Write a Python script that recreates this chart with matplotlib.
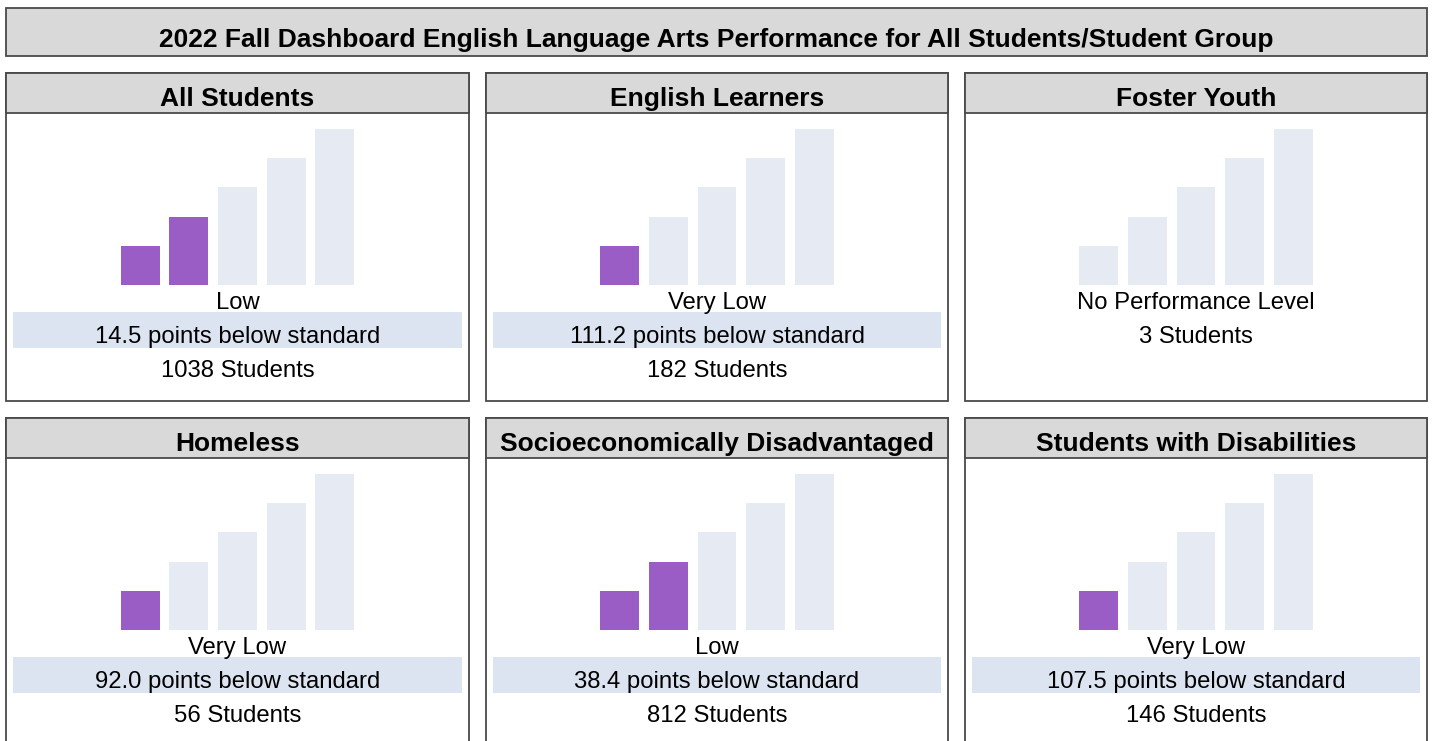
"""
Fall Dashboard ELA performance tiles, one small bar gauge per student group.
Writes: out.png
"""
import matplotlib
matplotlib.use("Agg")
import matplotlib.pyplot as plt
from matplotlib.patches import Rectangle

plt.rcParams["font.family"] = ["Liberation Sans", "DejaVu Sans"]

# ---------------------------------------------------------------------------
# Data
# ---------------------------------------------------------------------------
TITLE = "2022 Fall Dashboard English Language Arts Performance for All Students/Student Group"
groups = ["All Students", "English Learners", "Foster Youth",
          "Homeless", "Socioeconomically Disadvantaged", "Students with Disabilities"]
filled_levels = [2, 1, 0, 1, 2, 1]          # number of bars lit (0 = no level)
status = ["Low", "Very Low", "No Performance Level", "Very Low", "Low", "Very Low"]
points_below = [14.5, 111.2, None, 92.0, 38.4, 107.5]
students = [1038, 182, 3, 56, 812, 146]
gauge_heights = [4, 7, 10, 13, 16]           # the five step bars

PURPLE = "#9a5cc5"
EMPTY = "#e6eaf2"
BAND = "#dbe4f0"
HEADER = "#d9d9d9"
BORDER = "#4a4a4a"

W, H = 1433, 741
fig = plt.figure(figsize=(W / 100, H / 100), dpi=100)


def box(x0, y0, x1, y1, **kw):
    """Rectangle in pixel coords (origin top-left)."""
    fig.add_artist(Rectangle((x0 / W, 1 - y1 / H), (x1 - x0) / W, (y1 - y0) / H,
                             transform=fig.transFigure, **kw))


def text(x, y, s, **kw):
    fig.text(x / W, 1 - y / H, s, ha="center", va="baseline", zorder=5, **kw)


# title bar
box(6, 8, 1427, 56, facecolor=HEADER, edgecolor=BORDER, linewidth=1.3)
text(716.5, 47, TITLE, fontsize=19, fontweight="bold")

col_x = [(6, 469), (486, 948), (965, 1427)]
row_y = [73, 418]

for i, name in enumerate(groups):
    x0, x1 = col_x[i % 3]
    top = row_y[i // 3]
    cx = (x0 + x1) / 2
    # panel body and header
    box(x0, top, x1, top + 328, facecolor="white", edgecolor=BORDER, linewidth=1.3)
    box(x0, top, x1, top + 40, facecolor=HEADER, edgecolor=BORDER, linewidth=1.3)
    text(cx, top + 33, name, fontsize=19, fontweight="bold")

    # bar gauge
    base = top + 212
    ax = fig.add_axes([(cx - 121.5) / W, 1 - base / H, 243 / W, 161 / H])
    ax.set_zorder(3)
    ax.patch.set_visible(False)
    colors = [PURPLE if k < filled_levels[i] else EMPTY for k in range(5)]
    ax.bar(range(5), gauge_heights, width=0.8, color=colors)
    ax.set_xlim(-0.5, 4.5)
    ax.set_ylim(0, 16.5)
    ax.axis("off")

    text(cx, top + 236, status[i], fontsize=17.2)
    if points_below[i] is not None:
        box(x0 + 7, top + 239, x1 - 7, top + 275, facecolor=BAND, edgecolor="none")
        text(cx, top + 270, f"{points_below[i]:.1f} points below standard", fontsize=17.2)
        text(cx, top + 304, f"{students[i]} Students", fontsize=17.2)
    else:
        text(cx, top + 270, f"{students[i]} Students", fontsize=17.2)

fig.savefig("out.png", dpi=100)
